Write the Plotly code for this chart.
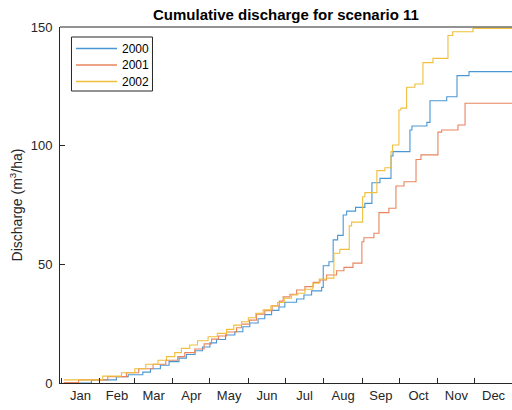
import pandas as pd
import plotly.graph_objects as go

# step change points: day of year (0 = Jan 1) and cumulative discharge (m3/ha)
days_2000 = [2, 24.3, 44.5, 54, 65.8, 72, 80, 87, 95, 101, 108, 114, 120, 125.3, 132.6, 140.1,
             146.6, 152.2, 158.9, 164.3, 169.8, 175.7, 180.5, 190, 195.9, 202.1, 210.2, 211.5,
             216.1, 219.5, 223.1, 227.6, 230.4, 237.6, 245.1, 250.8, 257.3, 266.2, 267.8, 281.5,
             283.1, 295.2, 297.7, 311.2, 319.5, 329.2, 366]
vals_2000 = [0, 1.3, 2.7, 3.5, 4.6, 6.0, 7.5, 9.0, 10.5, 12.0, 13.6, 15.2, 16.9, 18.3, 20.2, 21.6,
             23.7, 25.3, 27.1, 28.8, 30.6, 32.0, 34.0, 35.4, 37.1, 38.8, 40.3, 49.4,
             51.1, 60.3, 62.2, 70.8, 72.4, 74.0, 75.7, 84.4, 86.2, 95.7, 97.5, 106.6,
             108.3, 109.8, 118.9, 120.6, 129.5, 131.2, 131.2]

days_2001 = [2, 14, 37.5, 52.6, 62.5, 74.1, 84.4, 94, 99.7, 107.8, 115.3, 121.3, 127, 133.4,
             141.5, 145.5, 152, 157.6, 164.3, 170.2, 176, 179.1, 184.6, 190, 196.7, 203.4, 208.8,
             214.2, 222.3, 228.2, 235.5, 242.7, 244.3, 252.4, 256.5, 264.5, 270.2, 276.7, 286.4,
             290.4, 304.1, 307.1, 320.3, 326, 366]
vals_2001 = [0.2, 1.3, 2.7, 4.3, 6.0, 7.9, 9.6, 11.1, 12.8, 14.3, 16.5, 18.5, 19.8, 21.5,
             23.3, 24.8, 26.5, 29.0, 30.5, 32.5, 34.5, 36.3, 37.4, 39.2, 40.6, 42.4, 43.4,
             45.5, 47.3, 48.7, 50.5, 59.5, 61.2, 63.1, 71.8, 73.6, 83.0, 84.8, 94.2,
             96.1, 105.7, 106.6, 108.7, 117.9, 117.9]

days_2002 = [2, 33.5, 48.6, 59.3, 68.2, 78.1, 84.9, 91.6, 97, 103.7, 110, 118.5, 126, 133.4,
             139.3, 145.5, 151, 157, 163, 169.2, 174.6, 180, 185.9, 191, 196.7, 203.1, 208.2,
             214, 220.1, 224.9, 232.5, 234.4, 243.3, 245.1, 254.8, 261.3, 266.2, 267.5, 272.6,
             274.2, 278.8, 285.5, 292, 300.1, 312.2, 316, 332.4, 366]
vals_2002 = [1.3, 2.9, 4.3, 6.0, 7.9, 9.6, 11.1, 12.8, 14.6, 16.0, 17.8, 19.5, 20.9, 22.6,
             24.4, 25.8, 27.5, 29.4, 30.8, 32.5, 33.9, 35.7, 37.1, 37.8, 39.5, 42.0, 43.8,
             44.2, 54.7, 56.3, 66.2, 67.8, 78.5, 80.2, 89.5, 90.7, 97.5, 100.3, 115.0,
             115.8, 124.6, 126.0, 135.0, 136.8, 146.4, 148.0, 149.4, 149.4]

series_names = ["2000", "2001", "2002"]
series_colors = ["#4a97d4", "#e8855e", "#f0bf3c"]

base = pd.Timestamp("2001-01-01")

def to_dates(days):
    return [base + pd.Timedelta(days=d) for d in days]

fig = go.Figure()
for name, color, d, v in zip(series_names, series_colors,
                             [days_2000, days_2001, days_2002],
                             [vals_2000, vals_2001, vals_2002]):
    fig.add_trace(go.Scatter(x=to_dates(d), y=v, mode="lines", name=name,
                             line=dict(color=color, width=1.1, shape="hv"),
                             showlegend=False))

font_family = "Liberation Sans, Arial, sans-serif"
txt = "#262626"

fig.update_layout(
    width=512, height=410,
    margin=dict(l=60, r=0, t=27, b=27),
    paper_bgcolor="white", plot_bgcolor="white",
    font=dict(family=font_family, size=13, color=txt),
    title=dict(text="<b>Cumulative discharge for scenario 11</b>", x=0.5585, xanchor="center",
               y=1 - 15 / 410, yanchor="middle", font=dict(size=15, color="black")),
    xaxis=dict(type="date",
               range=[base + pd.Timedelta(days=-1.05), base + pd.Timedelta(days=363.9)],
               tick0="2001-01-01", dtick="M1", tickformat="%b", ticklabelmode="period",
               ticks="inside", ticklen=5, tickcolor=txt, tickwidth=1,
               showline=True, linecolor=txt, linewidth=1, showgrid=False, zeroline=False,
               tickfont=dict(size=13, color=txt)),
    yaxis=dict(range=[0, 150], tickvals=[0, 50, 100, 150],
               ticks="inside", ticklen=5, tickcolor=txt, tickwidth=1, ticklabelstandoff=4,
               showline=True, linecolor=txt, linewidth=1, showgrid=False, zeroline=False,
               tickfont=dict(size=13, color=txt),
               title=dict(text="Discharge (m<sup>3</sup>/ha)", font=dict(size=14, color=txt),
                          standoff=4)),
)
fig.add_shape(type="line", xref="paper", yref="paper", x0=0, x1=1, y0=1, y1=1,
              line=dict(color=txt, width=1))

# legend box drawn in paper coordinates (MATLAB-style compact legend)
fig.add_shape(type="rect", xref="paper", yref="paper", x0=0.0254, x1=0.2046,
              y0=0.8202, y1=0.9719, line=dict(color=txt, width=1), fillcolor="white",
              layer="above")
legend_rows = [0.9396, 0.8933, 0.8469]
for name, color, yy in zip(series_names, series_colors, legend_rows):
    fig.add_shape(type="line", xref="paper", yref="paper", x0=0.0354, x1=0.1261,
                  y0=yy, y1=yy, line=dict(color=color, width=1.5), layer="above")
    fig.add_annotation(text=name, xref="paper", yref="paper", x=0.1338, y=yy,
                       xanchor="left", yanchor="middle", showarrow=False,
                       font=dict(size=12, color="black"))

fig.write_html("out.html")
